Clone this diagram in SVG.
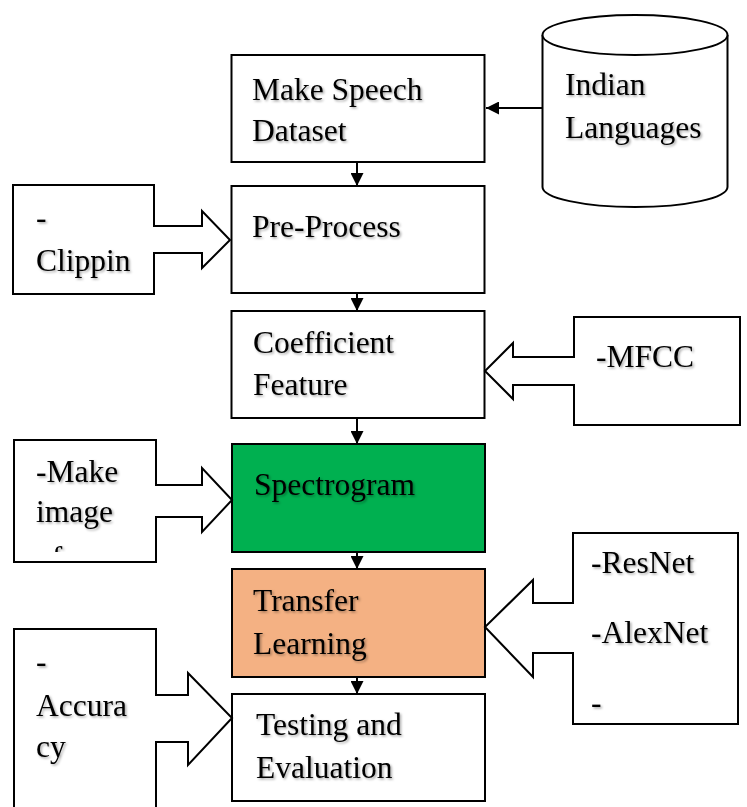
<svg xmlns="http://www.w3.org/2000/svg" width="747" height="807" viewBox="0 0 747 807">
<style>
  .box { fill: #ffffff; stroke: #000000; stroke-width: 2; }
  .callout { fill: #ffffff; stroke: #000000; stroke-width: 2; stroke-linejoin: miter; }
  .conn { fill: none; stroke: #000000; stroke-width: 2; }
  text { font-family: "Liberation Serif", "Times New Roman", serif; font-size: 31.5px; fill: #000000; filter: url(#shadow); }
</style>
<defs>
  <filter id="shadow" x="-10%" y="-20%" width="130%" height="150%">
    <feDropShadow dx="1.5" dy="1.5" stdDeviation="1" flood-color="#000000" flood-opacity="0.35"/>
  </filter>
  <marker id="ah" viewBox="0 0 10 10" refX="10" refY="5" markerUnits="userSpaceOnUse" markerWidth="13" markerHeight="13" orient="auto">
    <path d="M0,0 L10,5 L0,10 Z" fill="#000000"/>
  </marker>
  <clipPath id="clipMake">
    <rect x="14" y="440" width="142" height="112"/>
  </clipPath>
</defs>
<rect width="747" height="807" fill="#ffffff"/>

<g id="connectors">
  <line class="conn" x1="542" y1="108" x2="486" y2="108" marker-end="url(#ah)"/>
  <line class="conn" x1="357" y1="162" x2="357" y2="186" marker-end="url(#ah)"/>
  <line class="conn" x1="357" y1="293" x2="357" y2="311" marker-end="url(#ah)"/>
  <line class="conn" x1="357" y1="418" x2="357" y2="444" marker-end="url(#ah)"/>
  <line class="conn" x1="357" y1="552" x2="357" y2="569" marker-end="url(#ah)"/>
  <line class="conn" x1="357" y1="677" x2="357" y2="694" marker-end="url(#ah)"/>
</g>

<g id="indian-languages">
  <path class="box" d="M542.5,35 V187 A92.5,20 0 0 0 727.5,187 V35"/>
  <ellipse class="box" cx="635" cy="35" rx="92.5" ry="20"/>
  <text x="565" y="95">Indian</text>
  <text x="565" y="138">Languages</text>
</g>

<g id="make-speech-dataset">
  <rect class="box" x="231.5" y="55" width="253" height="107"/>
  <text x="252" y="100">Make Speech</text>
  <text x="252" y="141">Dataset</text>
</g>

<g id="pre-process">
  <rect class="box" x="231.5" y="186" width="253" height="107"/>
  <text x="252" y="237">Pre-Process</text>
</g>

<g id="coefficient-feature">
  <rect class="box" x="231.5" y="311" width="253" height="107"/>
  <text x="253" y="353">Coefficient</text>
  <text x="253" y="395">Feature</text>
</g>

<g id="spectrogram">
  <rect class="box" x="232" y="444" width="253" height="108" style="fill:#00B050"/>
  <text x="254" y="495">Spectrogram</text>
</g>

<g id="transfer-learning">
  <rect class="box" x="232" y="569" width="253" height="108" style="fill:#F4B183"/>
  <text x="253" y="611">Transfer</text>
  <text x="253" y="654">Learning</text>
</g>

<g id="testing-evaluation">
  <rect class="box" x="232" y="694" width="253" height="107"/>
  <text x="256" y="735">Testing and</text>
  <text x="256" y="778">Evaluation</text>
</g>

<g id="clipping">
  <path class="callout" d="M13,185 H154 V226 H202 V211 L230,240 L202,268 V253 H154 V294 H13 Z"/>
  <text x="36" y="228">-</text>
  <text x="36" y="271">Clippin</text>
</g>

<g id="make-images">
  <path class="callout" d="M14,440 H156 V485 H202 V468 L232,500 L202,532 V517 H156 V562 H14 Z"/>
  <text x="36" y="482">-Make</text>
  <text x="36" y="522">image</text>
  <g clip-path="url(#clipMake)">
    <text x="36" y="568">of</text>
  </g>
</g>

<g id="accuracy">
  <path class="callout" d="M14,812 V629 H156 V695 H188 V673 L232,718 L188,765 V742 H156 V812"/>
  <text x="36" y="672">-</text>
  <text x="36" y="716">Accura</text>
  <text x="36" y="757">cy</text>
</g>

<g id="mfcc">
  <path class="callout" d="M740,317 H574 V357 H513 V343 L485,371 L513,399 V385 H574 V425 H740 Z"/>
  <text x="596" y="367">-MFCC</text>
</g>

<g id="models">
  <path class="callout" d="M738,533 H573 V603 H533 V580 L485,627 L533,677 V653 H573 V724 H738 Z"/>
  <text x="591" y="573">-ResNet</text>
  <text x="591" y="643">-AlexNet</text>
  <text x="591" y="713">-</text>
</g>
</svg>
